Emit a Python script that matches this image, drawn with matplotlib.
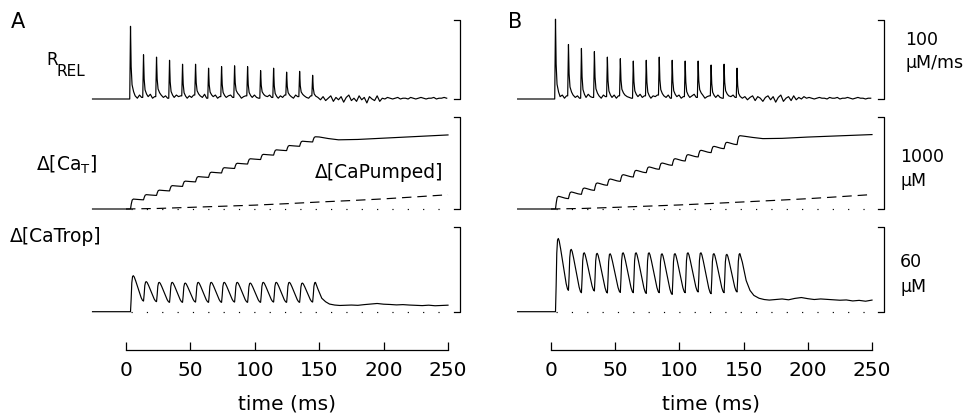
import matplotlib.pyplot as plt

W, H = 980, 420

# stimulus times (ms), same train in both panels
spike_t = [3.5, 13.6, 23.7, 33.8, 43.9, 54.0, 64.1, 74.2, 84.3, 94.4, 104.5, 114.6, 124.7, 134.8, 144.9]

# R_REL peak heights (uM/ms)
rel_A = [92, 56, 53, 49, 44, 44, 39, 41, 42, 41, 36, 39, 34, 35, 30]
rel_B = [101, 69, 64, 60, 53, 51, 48, 49, 53, 49, 48, 48, 43, 44, 39]

# ripple between release spikes, 4 readings per interval
rel_gap_A = [4, 1, 5, 2, 3, 6, 1, 3, 5, 2, 4, 1, 2, 5, 3, 4, 1, 4, 2, 5, 4, 2, 6, 1, 3, 5, 1, 3,
             2, 4, 5, 2, 5, 1, 3, 4, 2, 5, 2, 1, 4, 3, 5, 2, 1, 4, 2, 5, 3, 1, 5, 3, 4, 2, 1, 4]
rel_gap_B = [3, 5, 1, 4, 5, 2, 4, 1, 2, 6, 3, 2, 4, 1, 5, 3, 2, 5, 1, 4, 5, 3, 2, 1, 3, 6, 2, 4,
             1, 4, 3, 5, 4, 2, 5, 1, 3, 5, 1, 3, 2, 4, 6, 2, 5, 1, 3, 4, 2, 5, 2, 1, 4, 3, 5, 2]
# after the train: readings every 2 ms from 149 ms
rel_tail_A = [2, -1, 3, -2, 1, 4, -3, 2, -1, 3, -4, 2, 5, -2, 1, -3, 4, -1, 2, -5, 3, 0, -2, 4, -3,
              1, 0, 2, 1, 0, 1, 2, 0, 1, 1, 0, 2, 1, 0, 1, 2, 1, 0, 1, 1, 2, 0, 1, 1, 2, 1]
rel_tail_B = [1, 3, -1, 2, 4, -2, 3, 1, -3, 2, 4, -1, 3, -4, 2, 5, -3, 1, 3, -2, 4, -1, 2, 0, 3,
              1, 2, 1, 0, 1, 2, 1, 1, 0, 2, 1, 1, 2, 0, 1, 1, 2, 1, 0, 1, 2, 1, 1, 0, 1, 1]

# delta [CaT] (uM): top of each step and level just before next step
cat_peak_A = [108, 156, 205, 254, 303, 352, 400, 449, 497, 546, 594, 643, 690, 737, 785]
cat_trough_A = [100, 148, 197, 246, 295, 344, 392, 441, 489, 538, 586, 635, 682, 729]
cat_peak_B = [138, 185, 228, 283, 326, 373, 420, 457, 500, 547, 591, 638, 681, 725, 797]
cat_trough_B = [113, 160, 203, 258, 301, 348, 395, 432, 475, 522, 566, 613, 656, 700]
cat_after_t = [150, 157, 165, 180, 200, 225, 250]
cat_after_A = [783, 766, 752, 756, 770, 788, 805]
cat_after_B = [792, 778, 765, 768, 782, 796, 809]

# delta [CaPumped] (uM)
pump_t = [0, 25, 50, 75, 100, 125, 150, 175, 200, 225, 250]
pump_A = [0, 6, 18, 30, 42, 58, 76, 92, 110, 132, 155]
pump_B = [0, 6, 18, 31, 44, 60, 77, 94, 112, 134, 157]

# delta [CaTrop] (uM)
trop_peak_A = [25.4, 21.2, 20.7, 20.7, 20.2, 20.7, 20.7, 20.7, 20.7, 20.2, 20.7, 20.7, 20.7, 20.2, 20.7]
trop_trough_A = [7.5, 7.1, 6.6, 6.6, 6.8, 6.6, 6.6, 6.8, 6.6, 6.6, 6.8, 6.6, 6.6, 6.8]
trop_peak_B = [51.7, 44.0, 41.6, 41.2, 40.9, 41.6, 41.6, 41.6, 40.9, 41.0, 41.6, 41.6, 41.0, 40.5, 41.0]
trop_trough_B = [15.1, 13.4, 14.6, 13.2, 13.6, 13.4, 12.9, 13.4, 12.2, 13.4, 13.9, 12.7, 13.4, 13.9]
trop_after_t = [149, 152, 155, 158, 162, 166, 170, 175, 180, 185, 190, 195, 200, 205, 210, 215, 220,
                225, 230, 235, 240, 245, 250]
trop_after_A = [16, 9.5, 7.0, 5.4, 4.7, 4.4, 4.5, 4.7, 4.5, 5.0, 5.4, 5.8, 5.3, 5.1, 4.8, 5.0, 4.7,
                4.5, 4.3, 4.6, 4.2, 4.4, 4.6]
trop_after_B = [35, 22, 15, 11.5, 9.5, 8.6, 8.2, 8.6, 9.0, 8.4, 9.4, 10.0, 9.2, 8.6, 9.0, 8.7, 8.4,
                8.1, 8.3, 7.6, 8.0, 7.4, 8.2]

# waveform shapes (ms after stimulus, fraction of swing)
spike_dt = [-0.6, 0.0, 0.5, 1.2, 2.4]
spike_fr = [0.0, 1.0, 0.42, 0.16, 0.06]
gap_dt = [3.6, 5.3, 7.0, 8.6]
cat_rise = ([0.0, 0.6, 1.3, 2.2], [0.0, 0.5, 0.9, 1.0])
cat_fall = ([3.5, 5.5, 7.5, 9.0, 10.0], [0.85, 0.5, 0.2, 0.05, 0.0])
trop_rise = ([0.0, 0.5, 1.0, 1.6, 2.2], [0.0, 0.35, 0.8, 0.98, 1.0])
trop_fall = ([2.9, 4.0, 5.5, 7.0, 8.3, 9.3, 10.0], [0.95, 0.8, 0.57, 0.33, 0.13, 0.03, 0.0])

T0 = -26.0


def rel_trace(heights, gaps, tail):
    t, y = [T0], [0.0]
    n = len(spike_t)
    for k, ts in enumerate(spike_t):
        base = 0.0 if k == 0 else gaps[4 * k - 1]
        nxt = gaps[4 * k] if k < n - 1 else tail[0]
        for dt, fr in zip(spike_dt, spike_fr):
            b = base if dt <= 0 else nxt
            t.append(ts + dt)
            y.append(b + fr * (heights[k] - b))
        if k < n - 1:
            for i, dt in enumerate(gap_dt):
                t.append(ts + dt)
                y.append(gaps[4 * k + i])
    for i, v in enumerate(tail):
        t.append(149 + 2 * i)
        y.append(v)
    return t, y


def train(peaks, troughs, after_t, after_y, rise, fall):
    t, y = [T0], [0.0]
    prev = 0.0
    for k, ts in enumerate(spike_t):
        pk = peaks[k]
        for dt, fr in zip(*rise):
            t.append(ts + dt)
            y.append(prev + fr * (pk - prev))
        if k < len(troughs):
            tr = troughs[k]
            for dt, fr in zip(*fall):
                t.append(ts + dt)
                y.append(tr + fr * (pk - tr))
            prev = tr
    return t + list(after_t), y + list(after_y)


fig = plt.figure(figsize=(W / 100, H / 100), dpi=100)
plt.rcParams['font.family'] = 'DejaVu Sans'


def px_axes(l, t, r, b):
    ax = fig.add_axes([l / W, 1 - b / H, (r - l) / W, (b - t) / H])
    ax.set_axis_off()
    return ax


def ftext(x, y, s, **kw):
    fig.text(x / W, 1 - y / H, s, **kw)


LW = 0.85
BX = 259  # bracket position (ms)

# x pixel span of 0..250 ms
cols = {'A': (126, 448), 'B': (551, 872)}
rows = [(20, 99, 100), (117, 209, 1000), (226.7, 311.7, 60)]

data = {
    'A': (rel_A, rel_gap_A, rel_tail_A, cat_peak_A, cat_trough_A, cat_after_A, pump_A,
          trop_peak_A, trop_trough_A, trop_after_A),
    'B': (rel_B, rel_gap_B, rel_tail_B, cat_peak_B, cat_trough_B, cat_after_B, pump_B,
          trop_peak_B, trop_trough_B, trop_after_B),
}

for name, (x0, x1) in cols.items():
    (rel, gap, tail, cpk, ctr, caft, pump, tpk, ttr, taft) = data[name]
    axs = []
    for (top, bot, scale) in rows:
        ax = px_axes(x0, top, x1, bot)
        ax.set_xlim(0, 250)
        ax.set_ylim(0, scale)
        ax.plot([BX - 4, BX, BX, BX - 4], [0, 0, scale, scale], color='k', lw=0.9, clip_on=False)
        axs.append(ax)

    t, y = rel_trace(rel, gap, tail)
    axs[0].plot(t, y, color='k', lw=LW, clip_on=False)

    t, y = train(cpk, ctr, cat_after_t, caft, cat_rise, cat_fall)
    axs[1].plot(t, y, color='k', lw=LW, clip_on=False)
    axs[1].plot(pump_t, pump, color='k', lw=LW, ls=(0, (8, 5)), clip_on=False)
    axs[1].plot([4, 250], [0, 0], color='k', lw=LW, ls=(0, (1, 12)), clip_on=False)

    t, y = train(tpk, ttr, trop_after_t, taft, trop_rise, trop_fall)
    axs[2].plot(t, y, color='k', lw=LW, clip_on=False)
    axs[2].plot([4, 250], [0, 0], color='k', lw=LW, ls=(0, (1, 12)), clip_on=False)

    # time axis, line at y = 350 px
    tax = fig.add_axes([x0 / W, 1 - 350 / H, (x1 - x0) / W, 10 / H])
    tax.set_xlim(0, 250)
    for s in ['left', 'right', 'top']:
        tax.spines[s].set_visible(False)
    tax.spines['bottom'].set_linewidth(0.9)
    tax.set_yticks([])
    tax.set_xticks([0, 50, 100, 150, 200, 250])
    tax.tick_params(axis='x', direction='in', length=6, width=0.9, labelsize=14.5, pad=8)
    tax.set_xlabel('time (ms)', fontsize=14.5, labelpad=10)
    tax.patch.set_visible(False)

ftext(11, 22, 'A', fontsize=15, va='center')
ftext(508, 22, 'B', fontsize=15, va='center')

ftext(46, 60, 'R', fontsize=12, va='center')
ftext(57, 71, 'REL', fontsize=11, va='center')
ftext(36, 165, r'Δ[Ca$_{\mathregular{T}}$]', fontsize=13.5, va='center')
ftext(443, 173, 'Δ[CaPumped]', fontsize=13.5, va='center', ha='right')
ftext(10, 237, 'Δ[CaTrop]', fontsize=13.5, va='center')

ftext(905, 40, '100', fontsize=12.5, va='center')
ftext(905, 63, 'µM/ms', fontsize=12.5, va='center')
ftext(900, 157, '1000', fontsize=12.5, va='center')
ftext(900, 181, 'µM', fontsize=12.5, va='center')
ftext(900, 262, '60', fontsize=12.5, va='center')
ftext(900, 287, 'µM', fontsize=12.5, va='center')

fig.savefig('out.png', dpi=100)
